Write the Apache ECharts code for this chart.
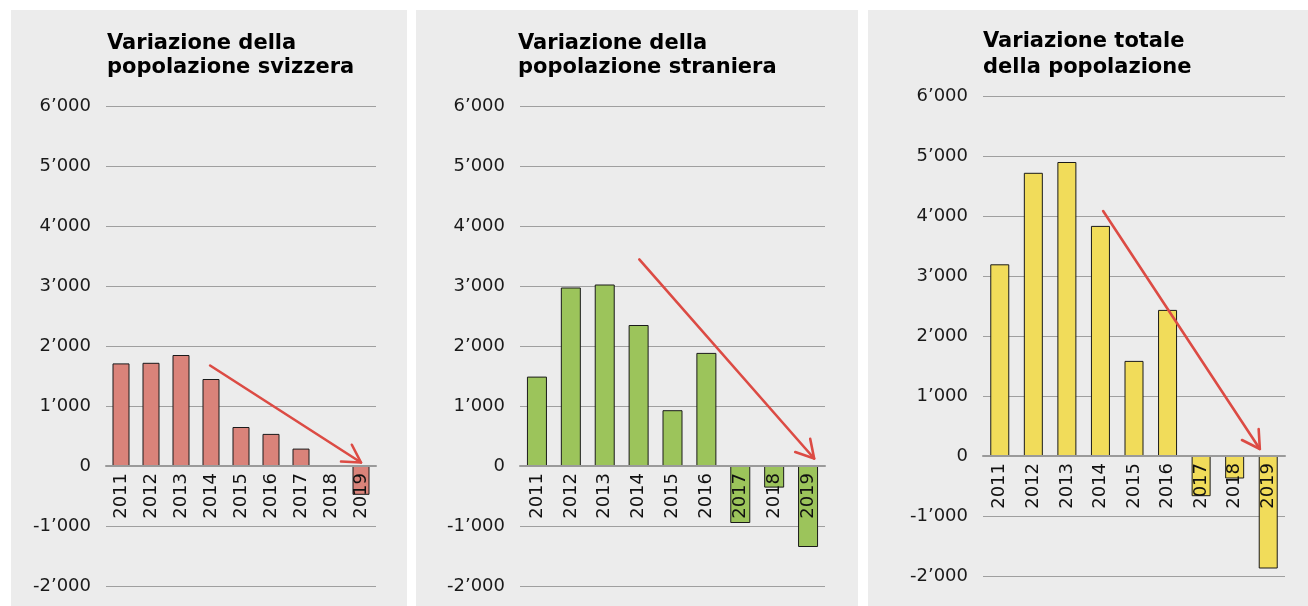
<!DOCTYPE html>
<html>
<head>
<meta charset="utf-8">
<script src="https://cdn.jsdelivr.net/npm/echarts@6/dist/echarts.min.js"></script>
<style>
  html, body { margin: 0; padding: 0; background: #fff; }
  #chart { width: 1308px; height: 606px; }
</style>
</head>
<body>
<div id="chart"></div>
<script>
const years = ['2011', '2012', '2013', '2014', '2015', '2016', '2017', '2018', '2019'];
const swissValues = [1710, 1720, 1850, 1450, 650, 535, 290, 0, -480];
const foreignValues = [1490, 2975, 3025, 2350, 930, 1885, -950, -360, -1350];
const totalValues = [3195, 4720, 4900, 3835, 1585, 2435, -670, -375, -1875];
const yMin = -2000;
const yMax = 6000;
const yStep = 1000;
const titles = [
  'Variazione della\npopolazione svizzera',
  'Variazione della\npopolazione straniera',
  'Variazione totale\ndella popolazione'
];
// trend arrows: [start index, start value, end index, end value]
const arrows = [
  [2.97, 1675, 8.0, 58],
  [3.02, 3442, 8.18, 125],
  [3.08, 4083, 7.75, 117]
];

const FONT = '"DejaVu Sans", sans-serif';
const panels = [
  {values: swissValues, color: '#da837a', grid: {left: 106, top: 106, width: 270, height: 480}, barWidth: 17,
   bg: {x: 11, width: 396}, title: {left: 107, top: 32, lineHeight: 24}},
  {values: foreignValues, color: '#9cc45b', grid: {left: 520, top: 106, width: 305, height: 480}, barWidth: 20,
   bg: {x: 416, width: 442}, title: {left: 518, top: 32, lineHeight: 24}},
  {values: totalValues, color: '#f1dc5a', grid: {left: 983, top: 96, width: 302, height: 480}, barWidth: 19,
   bg: {x: 868, width: 440}, title: {left: 983, top: 29, lineHeight: 26}}
];

function fmt(v) {
  return String(v).replace(/\B(?=(\d{3})+(?!\d))/g, '\u2019');
}

// distance of the zero line above the bottom of the grid
function zeroOffset(height) {
  return -height * (0 - yMin) / (yMax - yMin);
}

function arrowItem(params, api) {
  const p0 = api.coord([api.value(0), api.value(1)]);
  const p1 = api.coord([api.value(2), api.value(3)]);
  const ang = Math.atan2(p0[1] - p1[1], p0[0] - p1[0]);
  const len = 20, spread = Math.PI / 6;
  const a1 = [p1[0] + len * Math.cos(ang - spread), p1[1] + len * Math.sin(ang - spread)];
  const a2 = [p1[0] + len * Math.cos(ang + spread), p1[1] + len * Math.sin(ang + spread)];
  const style = {stroke: '#dc4b44', lineWidth: 2.6, fill: null, lineCap: 'round', lineJoin: 'round'};
  return {
    type: 'group',
    children: [
      {type: 'line', shape: {x1: p0[0], y1: p0[1], x2: p1[0], y2: p1[1]}, style: style},
      {type: 'polyline', shape: {points: [a1, p1, a2]}, style: style}
    ]
  };
}

const option = {
  animation: false,
  backgroundColor: '#ffffff',
  graphic: panels.map(p => ({
    type: 'rect', z: -100,
    shape: {x: p.bg.x, y: 10, width: p.bg.width, height: 596},
    style: {fill: '#ececec'}
  })),
  title: panels.map((p, i) => ({
    text: titles[i],
    left: p.title.left, top: p.title.top, padding: 0,
    textStyle: {fontFamily: FONT, fontWeight: 'bold', fontSize: 21, lineHeight: p.title.lineHeight, color: '#000'}
  })),
  grid: panels.map(p => Object.assign({outerBoundsMode: 'none', containLabel: false}, p.grid)),
  xAxis: panels.flatMap((p, i) => [
    {
      type: 'category', gridIndex: i, data: years, z: 10, position: 'bottom',
      offset: zeroOffset(p.grid.height),
      axisLine: {show: true, onZero: false, lineStyle: {color: '#9a9a9a', width: 2}},
      axisTick: {show: false},
      axisLabel: {interval: 0, rotate: 90, margin: 7, fontFamily: FONT, fontSize: 18, color: '#111'}
    },
    {type: 'value', gridIndex: i, min: -0.5, max: years.length - 0.5, show: false,
     axisLine: {onZero: false}}
  ]),
  yAxis: panels.map((p, i) => ({
    type: 'value', gridIndex: i, min: yMin, max: yMax, interval: yStep,
    axisLine: {show: false, onZero: false}, axisTick: {show: false},
    splitLine: {lineStyle: {color: '#9f9f9f', width: 1}},
    axisLabel: {margin: 15, fontFamily: FONT, fontSize: 18, color: '#1a1a1a', formatter: fmt}
  })),
  series: panels.flatMap((p, i) => [
    {
      type: 'bar', xAxisIndex: i * 2, yAxisIndex: i, data: p.values, barWidth: p.barWidth,
      itemStyle: {color: p.color, borderColor: '#1a1a1a', borderWidth: 1}
    },
    {
      type: 'custom', xAxisIndex: i * 2 + 1, yAxisIndex: i, clip: false, z: 5,
      renderItem: arrowItem, data: [arrows[i]]
    }
  ])
};

const chart = echarts.init(document.getElementById('chart'), null, {renderer: 'canvas'});
chart.setOption(option);
</script>
</body>
</html>
